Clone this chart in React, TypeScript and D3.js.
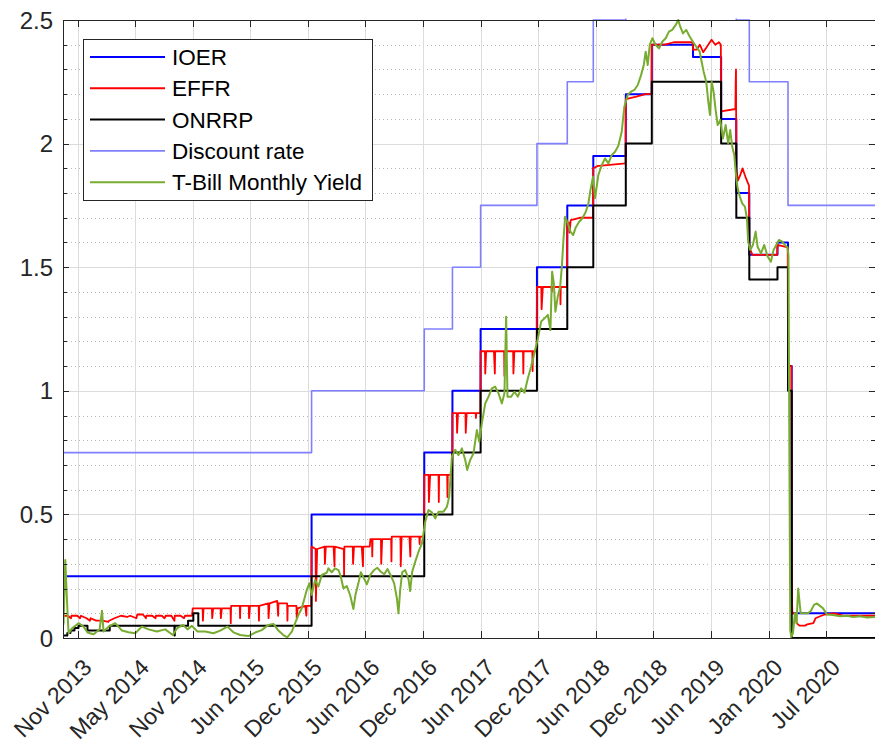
import React from 'react';
import * as d3 from 'd3';

// ---------------- DATA ----------------
const xDomain: string[] = ['2013-10-05', '2020-12-10'];
const yDomain: number[] = [0, 2.5];
const yTickValues: number[] = [0, 0.5, 1, 1.5, 2, 2.5];
const yTickLabels: string[] = ['0', '0.5', '1', '1.5', '2', '2.5'];
const xTickDates: string[] = [
  '2013-11-21', '2014-05-26', '2014-11-28', '2015-06-02', '2015-12-05', '2016-06-08', '2016-12-11',
  '2017-06-15', '2017-12-18', '2018-06-22', '2018-12-25', '2019-06-28', '2020-01-01', '2020-07-05',
];
const xTickLabels: string[] = [
  'Nov 2013', 'May 2014', 'Nov 2014', 'Jun 2015', 'Dec 2015', 'Jun 2016', 'Dec 2016',
  'Jun 2017', 'Dec 2017', 'Jun 2018', 'Dec 2018', 'Jun 2019', 'Jan 2020', 'Jul 2020',
];

const seriesNames: string[] = ['IOER', 'EFFR', 'ONRRP', 'Discount rate', 'T-Bill Monthly Yield'];

// step series: [date the rate takes effect, rate]
const ioer: [string, number][] = [
  ['2013-10-17', 0.25], ['2015-12-17', 0.5], ['2016-12-15', 0.75], ['2017-03-16', 1.0], ['2017-06-15', 1.25],
  ['2017-12-14', 1.5], ['2018-03-22', 1.75], ['2018-06-14', 1.95], ['2018-09-27', 2.2], ['2018-12-20', 2.4],
  ['2019-05-02', 2.35], ['2019-08-01', 2.1], ['2019-09-19', 1.8], ['2019-10-31', 1.55], ['2020-01-30', 1.6],
  ['2020-03-04', 1.1], ['2020-03-16', 0.1], ['2020-12-10', 0.1],
];

const onrrp: [string, number][] = [
  ['2013-10-05', 0.01], ['2013-10-19', 0.02], ['2013-10-29', 0.03], ['2013-11-11', 0.04], ['2013-11-24', 0.05],
  ['2013-12-23', 0.03], ['2014-03-05', 0.05], ['2014-09-30', 0.01], ['2014-10-01', 0.05], ['2014-11-13', 0.07],
  ['2014-11-30', 0.1], ['2014-12-16', 0.05], ['2015-12-17', 0.25], ['2016-12-15', 0.5], ['2017-03-16', 0.75],
  ['2017-06-15', 1.0], ['2017-12-14', 1.25], ['2018-03-22', 1.5], ['2018-06-14', 1.75], ['2018-09-27', 2.0],
  ['2018-12-20', 2.25], ['2019-08-01', 2.0], ['2019-09-19', 1.7], ['2019-10-31', 1.45], ['2020-01-30', 1.5],
  ['2020-03-04', 1.0], ['2020-03-16', 0.0], ['2020-12-10', 0.0],
];

const discountRate: [string, number][] = [
  ['2013-10-05', 0.75], ['2015-12-17', 1.0], ['2016-12-15', 1.25], ['2017-03-16', 1.5], ['2017-06-15', 1.75],
  ['2017-12-14', 2.0], ['2018-03-22', 2.25], ['2018-06-14', 2.5], ['2018-09-27', 2.75], ['2018-12-20', 3.0],
  ['2019-08-01', 2.75], ['2019-09-19', 2.5], ['2019-10-31', 2.25], ['2020-03-04', 1.75], ['2020-12-10', 1.75],
];

// daily effective fed funds rate (month-end dips included)
const effr: [string, number][] = [
  ['2013-10-05', 0.09], ['2013-10-20', 0.09], ['2013-10-31', 0.08], ['2013-11-01', 0.09], ['2013-11-20', 0.09],
  ['2013-11-29', 0.08], ['2013-12-02', 0.09], ['2013-12-20', 0.08], ['2013-12-31', 0.07], ['2014-01-02', 0.08],
  ['2014-01-20', 0.07], ['2014-02-10', 0.07], ['2014-02-28', 0.065], ['2014-03-03', 0.07], ['2014-03-20', 0.08],
  ['2014-04-10', 0.09], ['2014-04-30', 0.085], ['2014-05-10', 0.09], ['2014-05-30', 0.08], ['2014-06-02', 0.095],
  ['2014-06-20', 0.095], ['2014-06-30', 0.08], ['2014-07-01', 0.09], ['2014-07-20', 0.09], ['2014-07-31', 0.08],
  ['2014-08-01', 0.09], ['2014-08-20', 0.09], ['2014-08-29', 0.08], ['2014-09-02', 0.09], ['2014-09-20', 0.09],
  ['2014-09-30', 0.07], ['2014-10-01', 0.09], ['2014-10-20', 0.09], ['2014-10-31', 0.08], ['2014-11-03', 0.09],
  ['2014-11-26', 0.09], ['2014-11-28', 0.12],
  ['2014-12-30', 0.12], ['2014-12-31', 0.07], ['2015-01-02', 0.12],
  ['2015-01-29', 0.12], ['2015-01-30', 0.08], ['2015-02-02', 0.12],
  ['2015-02-26', 0.12], ['2015-02-27', 0.08], ['2015-03-02', 0.12],
  ['2015-03-30', 0.12], ['2015-03-31', 0.06], ['2015-04-01', 0.13],
  ['2015-04-29', 0.13], ['2015-04-30', 0.08], ['2015-05-01', 0.13],
  ['2015-05-28', 0.13], ['2015-05-29', 0.08], ['2015-06-01', 0.13],
  ['2015-06-29', 0.13], ['2015-06-30', 0.07], ['2015-07-01', 0.13],
  ['2015-07-30', 0.14], ['2015-07-31', 0.08], ['2015-08-03', 0.14],
  ['2015-08-28', 0.15], ['2015-08-31', 0.09], ['2015-09-01', 0.14],
  ['2015-09-29', 0.14], ['2015-09-30', 0.07], ['2015-10-01', 0.13],
  ['2015-10-29', 0.13], ['2015-10-30', 0.08], ['2015-11-02', 0.12],
  ['2015-11-27', 0.13], ['2015-11-30', 0.09], ['2015-12-01', 0.13],
  ['2015-12-16', 0.13], ['2015-12-17', 0.37], ['2015-12-30', 0.36], ['2015-12-31', 0.15], ['2016-01-04', 0.36],
  ['2016-01-28', 0.37], ['2016-01-29', 0.3], ['2016-02-01', 0.37],
  ['2016-02-26', 0.37], ['2016-02-29', 0.29], ['2016-03-01', 0.37],
  ['2016-03-30', 0.36], ['2016-03-31', 0.25], ['2016-04-01', 0.37],
  ['2016-04-28', 0.37], ['2016-04-29', 0.3], ['2016-05-02', 0.37],
  ['2016-05-27', 0.37], ['2016-05-31', 0.29], ['2016-06-01', 0.37],
  ['2016-06-22', 0.37], ['2016-06-24', 0.4], ['2016-06-29', 0.4], ['2016-06-30', 0.33], ['2016-07-01', 0.4],
  ['2016-07-28', 0.4], ['2016-07-29', 0.3], ['2016-08-01', 0.4],
  ['2016-08-30', 0.4], ['2016-08-31', 0.31], ['2016-09-01', 0.41],
  ['2016-09-29', 0.41], ['2016-09-30', 0.29], ['2016-10-03', 0.41],
  ['2016-10-28', 0.41], ['2016-10-31', 0.33], ['2016-11-01', 0.41],
  ['2016-11-29', 0.41], ['2016-11-30', 0.38], ['2016-12-01', 0.41],
  ['2016-12-14', 0.41], ['2016-12-15', 0.66], ['2016-12-29', 0.66], ['2016-12-30', 0.55], ['2017-01-03', 0.66],
  ['2017-01-30', 0.66], ['2017-01-31', 0.55], ['2017-02-01', 0.66],
  ['2017-02-27', 0.66], ['2017-02-28', 0.57], ['2017-03-01', 0.66],
  ['2017-03-15', 0.66], ['2017-03-16', 0.91], ['2017-03-30', 0.91], ['2017-03-31', 0.83], ['2017-04-03', 0.91],
  ['2017-04-27', 0.91], ['2017-04-28', 0.83], ['2017-05-01', 0.91],
  ['2017-05-30', 0.91], ['2017-05-31', 0.89], ['2017-06-01', 0.91],
  ['2017-06-14', 0.91], ['2017-06-15', 1.16], ['2017-06-29', 1.16], ['2017-06-30', 1.07], ['2017-07-03', 1.16],
  ['2017-07-28', 1.16], ['2017-07-31', 1.07], ['2017-08-01', 1.16],
  ['2017-08-30', 1.16], ['2017-08-31', 1.06], ['2017-09-01', 1.16],
  ['2017-09-28', 1.16], ['2017-09-29', 1.07], ['2017-10-02', 1.16],
  ['2017-10-30', 1.16], ['2017-10-31', 1.07], ['2017-11-01', 1.16],
  ['2017-11-29', 1.16], ['2017-11-30', 1.08], ['2017-12-01', 1.16],
  ['2017-12-13', 1.16], ['2017-12-14', 1.42], ['2017-12-28', 1.42], ['2017-12-29', 1.33], ['2018-01-02', 1.42],
  ['2018-01-30', 1.42], ['2018-01-31', 1.4], ['2018-02-01', 1.42],
  ['2018-02-27', 1.42], ['2018-02-28', 1.35], ['2018-03-01', 1.42],
  ['2018-03-21', 1.42], ['2018-03-22', 1.68], ['2018-03-28', 1.68], ['2018-03-29', 1.64], ['2018-04-02', 1.69],
  ['2018-05-01', 1.7], ['2018-06-13', 1.7], ['2018-06-14', 1.9], ['2018-06-29', 1.91], ['2018-07-02', 1.91],
  ['2018-09-26', 1.92], ['2018-09-27', 2.18], ['2018-10-31', 2.19], ['2018-11-30', 2.2], ['2018-12-19', 2.2],
  ['2018-12-20', 2.4], ['2019-01-31', 2.4], ['2019-03-01', 2.41], ['2019-05-01', 2.41],
  ['2019-05-02', 2.38], ['2019-05-14', 2.38], ['2019-05-24', 2.4], ['2019-06-04', 2.37], ['2019-06-15', 2.39],
  ['2019-07-01', 2.42], ['2019-07-13', 2.4], ['2019-07-25', 2.41], ['2019-07-31', 2.4],
  ['2019-08-01', 2.13], ['2019-09-16', 2.14], ['2019-09-17', 2.25], ['2019-09-18', 2.3], ['2019-09-19', 1.9],
  ['2019-09-24', 1.85], ['2019-10-01', 1.87], ['2019-10-09', 1.9], ['2019-10-20', 1.86], ['2019-10-30', 1.83],
  ['2019-10-31', 1.58], ['2019-11-10', 1.55], ['2020-01-29', 1.55], ['2020-01-30', 1.59], ['2020-03-03', 1.58],
  ['2020-03-04', 1.1], ['2020-03-15', 1.1], ['2020-03-16', 0.25], ['2020-03-17', 0.15], ['2020-03-18', 0.1],
  ['2020-03-30', 0.1], ['2020-04-01', 0.06], ['2020-04-10', 0.05], ['2020-04-28', 0.05], ['2020-05-05', 0.055],
  ['2020-05-25', 0.06], ['2020-06-01', 0.08], ['2020-06-10', 0.085], ['2020-06-20', 0.09], ['2020-07-01', 0.095],
  ['2020-08-01', 0.1], ['2020-09-01', 0.09], ['2020-12-10', 0.09],
];

// T-bill yield: [decimal year, yield]
const tbill: [number, number][] = [
  [2013.759, 0.05], [2013.764, 0.06], [2013.779, 0.316], [2013.794, 0.154], [2013.808, 0.019], [2013.839, 0.039],
  [2013.897, 0.06], [2013.941, 0.046], [2013.976, 0.022], [2014.03, 0.015], [2014.083, 0.035], [2014.104, 0.11],
  [2014.118, 0.026], [2014.162, 0.046], [2014.221, 0.06], [2014.281, 0.03], [2014.339, 0.023], [2014.398, 0.019],
  [2014.457, 0.046], [2014.516, 0.035], [2014.59, 0.026], [2014.663, 0.035], [2014.731, 0.012], [2014.767, 0.039],
  [2014.82, 0.053], [2014.861, 0.035], [2014.899, 0.049], [2014.949, 0.026], [2015.017, 0.026], [2015.09, 0.019],
  [2015.15, 0.03], [2015.214, 0.046], [2015.267, 0.023], [2015.327, 0.012], [2015.4, 0.008], [2015.459, 0.022],
  [2015.518, 0.032], [2015.577, 0.053], [2015.621, 0.057], [2015.665, 0.03], [2015.709, 0.012], [2015.745, 0.003],
  [2015.784, 0.026], [2015.813, 0.06], [2015.842, 0.093], [2015.872, 0.12], [2015.892, 0.154], [2015.916, 0.194],
  [2015.939, 0.221], [2015.96, 0.174], [2015.99, 0.235], [2016.019, 0.208], [2016.049, 0.255], [2016.093, 0.264],
  [2016.107, 0.282], [2016.137, 0.266], [2016.166, 0.282], [2016.196, 0.275], [2016.217, 0.248], [2016.24, 0.201],
  [2016.27, 0.21], [2016.299, 0.174], [2016.328, 0.117], [2016.346, 0.174], [2016.372, 0.221], [2016.394, 0.266],
  [2016.423, 0.239], [2016.447, 0.217], [2016.476, 0.255], [2016.511, 0.275], [2016.54, 0.284], [2016.57, 0.268],
  [2016.6, 0.258], [2016.629, 0.279], [2016.659, 0.252], [2016.688, 0.221], [2016.712, 0.16], [2016.726, 0.1],
  [2016.741, 0.194], [2016.759, 0.266], [2016.785, 0.275], [2016.814, 0.239], [2016.829, 0.19], [2016.847, 0.268],
  [2016.874, 0.309], [2016.903, 0.349], [2016.933, 0.383], [2016.962, 0.47], [2016.991, 0.518], [2017.021, 0.508],
  [2017.051, 0.484], [2017.08, 0.511], [2017.124, 0.511], [2017.154, 0.531], [2017.174, 0.572], [2017.198, 0.733],
  [2017.227, 0.761], [2017.256, 0.74], [2017.287, 0.767], [2017.316, 0.72], [2017.333, 0.68], [2017.36, 0.72],
  [2017.389, 0.747], [2017.419, 0.841], [2017.44, 0.794], [2017.463, 0.868], [2017.493, 0.949], [2017.522, 0.976],
  [2017.552, 1.01], [2017.581, 1.017], [2017.61, 0.99], [2017.64, 0.949], [2017.663, 0.99], [2017.678, 1.3],
  [2017.69, 0.976], [2017.722, 0.976], [2017.752, 0.996], [2017.782, 0.976], [2017.811, 1.01], [2017.84, 0.992],
  [2017.87, 1.05], [2017.899, 1.098], [2017.928, 1.152], [2017.959, 1.212], [2017.988, 1.28], [2018.017, 1.293],
  [2018.047, 1.307], [2018.07, 1.246], [2018.085, 1.482], [2018.1, 1.435], [2018.114, 1.32], [2018.135, 1.381],
  [2018.156, 1.421], [2018.171, 1.502], [2018.185, 1.61], [2018.2, 1.704], [2018.224, 1.678], [2018.247, 1.644],
  [2018.271, 1.63], [2018.294, 1.661], [2018.324, 1.684], [2018.353, 1.698], [2018.383, 1.724], [2018.406, 1.758],
  [2018.424, 1.812], [2018.447, 1.866], [2018.465, 1.779], [2018.494, 1.873], [2018.524, 1.913], [2018.553, 1.94],
  [2018.583, 1.92], [2018.613, 1.954], [2018.642, 1.967], [2018.671, 1.991], [2018.701, 2.048], [2018.724, 2.149],
  [2018.754, 2.197], [2018.783, 2.21], [2018.813, 2.217], [2018.843, 2.237], [2018.872, 2.277], [2018.896, 2.318],
  [2018.913, 2.372], [2018.931, 2.318], [2018.949, 2.399], [2018.972, 2.426], [2019.002, 2.399], [2019.031, 2.385],
  [2019.06, 2.412], [2019.09, 2.426], [2019.119, 2.453], [2019.148, 2.46], [2019.179, 2.48], [2019.201, 2.5],
  [2019.219, 2.473], [2019.243, 2.446], [2019.272, 2.46], [2019.302, 2.433], [2019.331, 2.412], [2019.361, 2.392],
  [2019.391, 2.372], [2019.408, 2.331], [2019.426, 2.291], [2019.449, 2.25], [2019.467, 2.17], [2019.482, 2.116],
  [2019.497, 2.25], [2019.514, 2.21], [2019.532, 2.136], [2019.55, 2.075], [2019.573, 2.095], [2019.597, 2.021],
  [2019.621, 2.075], [2019.643, 2.001], [2019.661, 2.055], [2019.679, 1.987], [2019.697, 1.954], [2019.712, 1.873],
  [2019.727, 1.819], [2019.747, 1.785], [2019.767, 1.758], [2019.791, 1.745], [2019.809, 1.698], [2019.82, 1.603],
  [2019.838, 1.57], [2019.862, 1.59], [2019.886, 1.644], [2019.903, 1.583], [2019.933, 1.556], [2019.962, 1.59],
  [2019.992, 1.543], [2020.021, 1.522], [2020.045, 1.57], [2020.068, 1.59], [2020.092, 1.61], [2020.121, 1.603],
  [2020.145, 1.59], [2020.167, 1.58], [2020.176, 1.55], [2020.192, 0.03], [2020.202, 0.005], [2020.216, 0.02],
  [2020.233, 0.1], [2020.247, 0.06], [2020.262, 0.2], [2020.284, 0.1], [2020.313, 0.1], [2020.348, 0.1],
  [2020.375, 0.11], [2020.401, 0.134], [2020.428, 0.14], [2020.454, 0.13], [2020.481, 0.12], [2020.516, 0.095],
  [2020.569, 0.093], [2020.631, 0.088], [2020.693, 0.09], [2020.746, 0.085], [2020.808, 0.088], [2020.87, 0.083],
  [2020.941, 0.085],
];

// ---------------- CHART ----------------
const W = 875;
const H = 744;
const M = { left: 63, right: 875, top: 20, bottom: 638 };
const FONT = "'Liberation Sans', Arial, Helvetica, sans-serif";
const AXIS = '#262626';

const COLORS = {
  ioer: '#0000ff',
  effr: '#ff0000',
  onrrp: '#000000',
  disc: '#8080ff',
  tbill: '#77ac30',
};

const fromDecYear = (v: number): Date => {
  const yr = Math.floor(v);
  const a = Date.UTC(yr, 0, 1);
  const b = Date.UTC(yr + 1, 0, 1);
  return new Date(a + (v - yr) * (b - a));
};

export default function App() {
  const x = d3.scaleUtc().domain(xDomain.map((s) => new Date(s))).range([M.left, M.right]);
  const y = d3.scaleLinear().domain(yDomain).range([M.bottom, M.top]);

  const step = d3
    .line<[string, number]>()
    .x((d) => x(new Date(d[0])))
    .y((d) => y(d[1]))
    .curve(d3.curveStepAfter);
  const lin = d3
    .line<[string, number]>()
    .x((d) => x(new Date(d[0])))
    .y((d) => y(d[1]));
  const linDec = d3
    .line<[number, number]>()
    .x((d) => x(fromDecYear(d[0])))
    .y((d) => y(d[1]));

  const minorY = y.ticks(25).filter((v) => !yTickValues.some((t) => Math.abs(t - v) < 1e-6));
  const allYTicks = y.ticks(25);

  const legendItems = [
    { name: seriesNames[0], color: COLORS.ioer, w: 2 },
    { name: seriesNames[1], color: COLORS.effr, w: 2 },
    { name: seriesNames[2], color: COLORS.onrrp, w: 2 },
    { name: seriesNames[3], color: COLORS.disc, w: 1.6 },
    { name: seriesNames[4], color: COLORS.tbill, w: 2 },
  ];

  const L = { x: 83, y: 39, w: 289, h: 161, row0: 57, rowH: 31.3 };

  return (
    <svg
      width={W}
      height={H}
      style={{ position: 'absolute', left: 0, top: 0, background: '#fff' }}
      fontFamily={FONT}
    >
      <defs>
        <clipPath id="plot">
          <rect x={M.left} y={M.top - 1.5} width={M.right - M.left} height={M.bottom - M.top + 3} />
        </clipPath>
      </defs>
      <rect x={0} y={0} width={W} height={H} fill="#fff" />

      {/* minor grid */}
      {minorY.map((v) => (
        <line
          key={'mg' + v}
          x1={M.left}
          x2={M.right}
          y1={Math.round(y(v)) + 0.5}
          y2={Math.round(y(v)) + 0.5}
          stroke="#b8b8b8"
          strokeWidth={1}
          strokeDasharray="1 3"
        />
      ))}
      {/* major grid */}
      {yTickValues.map((v) => (
        <line
          key={'gy' + v}
          x1={M.left}
          x2={M.right}
          y1={Math.round(y(v)) + 0.5}
          y2={Math.round(y(v)) + 0.5}
          stroke="#dcdcdc"
          strokeWidth={1}
        />
      ))}
      {xTickDates.map((d) => (
        <line
          key={'gx' + d}
          x1={Math.round(x(new Date(d))) + 0.5}
          x2={Math.round(x(new Date(d))) + 0.5}
          y1={M.top}
          y2={M.bottom}
          stroke="#dcdcdc"
          strokeWidth={1}
        />
      ))}

      {/* data */}
      <g clipPath="url(#plot)" fill="none" strokeLinejoin="round">
        <path d={step(ioer) || ''} stroke={COLORS.ioer} strokeWidth={2} />
        <path d={lin(effr) || ''} stroke={COLORS.effr} strokeWidth={1.8} />
        <path d={step(onrrp) || ''} stroke={COLORS.onrrp} strokeWidth={2} />
        <path d={step(discountRate) || ''} stroke={COLORS.disc} strokeWidth={1.6} />
        <path d={linDec(tbill) || ''} stroke={COLORS.tbill} strokeWidth={2} />
      </g>

      {/* axes box */}
      <g stroke={AXIS} strokeWidth={1}>
        <line x1={M.left + 0.5} x2={M.left + 0.5} y1={M.top} y2={M.bottom + 0.5} />
        <line x1={M.left} x2={M.right} y1={M.bottom + 0.5} y2={M.bottom + 0.5} />
        <line x1={M.left} x2={M.right} y1={M.top + 0.5} y2={M.top + 0.5} />
        {xTickDates.map((d) => {
          const xx = Math.round(x(new Date(d))) + 0.5;
          return (
            <g key={'xt' + d}>
              <line x1={xx} x2={xx} y1={M.bottom} y2={M.bottom - 7} />
              <line x1={xx} x2={xx} y1={M.top} y2={M.top + 7} />
            </g>
          );
        })}
        {allYTicks.map((v) => {
          const yy = Math.round(y(v)) + 0.5;
          const major = yTickValues.some((t) => Math.abs(t - v) < 1e-6);
          const len = major ? 6 : 4;
          return (
            <g key={'yt' + v}>
              <line x1={M.left} x2={M.left + len} y1={yy} y2={yy} />
              <line x1={M.right} x2={M.right - len} y1={yy} y2={yy} />
            </g>
          );
        })}
      </g>

      {/* tick labels */}
      {yTickValues.map((v, i) => (
        <text
          key={'yl' + v}
          x={M.left - 10}
          y={y(v)}
          dy="0.36em"
          textAnchor="end"
          fontSize={24}
          fill={AXIS}
        >
          {yTickLabels[i]}
        </text>
      ))}
      {xTickDates.map((d, i) => (
        <text
          key={'xl' + d}
          transform={`translate(${x(new Date(d)) + 15.5},${M.bottom + 31}) rotate(-45)`}
          textAnchor="end"
          fontSize={23}
          fill={AXIS}
        >
          {xTickLabels[i]}
        </text>
      ))}

      {/* legend */}
      <rect x={L.x + 0.5} y={L.y + 0.5} width={L.w} height={L.h} fill="#fff" stroke={AXIS} strokeWidth={1} />
      {legendItems.map((it, i) => {
        const yy = L.row0 + i * L.rowH;
        return (
          <g key={'lg' + i}>
            <line x1={90} x2={165} y1={yy} y2={yy} stroke={it.color} strokeWidth={it.w} />
            <text x={172} y={yy} dy="0.36em" fontSize={22.5} fill="#000">
              {it.name}
            </text>
          </g>
        );
      })}
    </svg>
  );
}
